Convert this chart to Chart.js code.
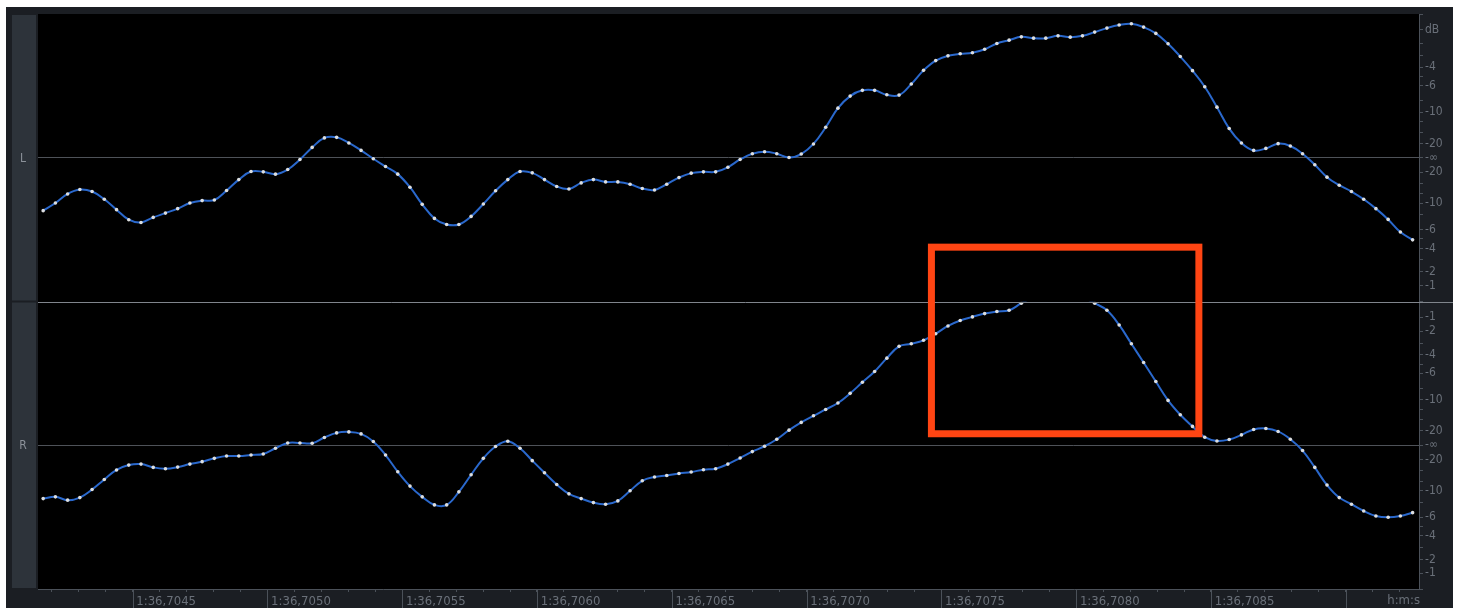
<!DOCTYPE html>
<html>
<head>
<meta charset="utf-8">
<script src="https://cdn.jsdelivr.net/npm/chart.js@4.4.1/dist/chart.umd.min.js"></script>
<style>
  html, body { margin: 0; padding: 0; background: #ffffff; }
  canvas { display: block; }
</style>
</head>
<body>
<canvas id="c" width="1462" height="608"></canvas>
<script>
// ---- data ----
const SAMPLE_RATE = 22050;              // Hz
const FIRST_SAMPLE_MS = 4.1684;         // ms after 1:36,700
const VIEW_START_MS = 4.1492;
const VIEW_END_MS = 9.2715;

// left channel sample amplitudes (linear, -1..1)
const LEFT_CHANNEL = [
  -0.368, -0.315, -0.252, -0.221, -0.235, -0.289, -0.361, -0.431, -0.450, -0.415,
  -0.385, -0.354, -0.315, -0.298, -0.294, -0.228, -0.152, -0.096, -0.098, -0.114,
  -0.082, -0.012,  0.072,  0.138,  0.142,  0.103,  0.051, -0.007, -0.061, -0.114,
  -0.205, -0.324, -0.422, -0.464, -0.464, -0.408, -0.322, -0.230, -0.152, -0.096,
  -0.105, -0.152, -0.200, -0.217, -0.175, -0.152, -0.168, -0.168, -0.184, -0.214,
  -0.224, -0.184, -0.138, -0.107, -0.098, -0.098, -0.066, -0.012,  0.028,  0.042,
   0.028,  0.002,  0.026,  0.096,  0.212,  0.345,  0.429,  0.469,  0.469,  0.438,
   0.436,  0.513,  0.608,  0.676,  0.709,  0.723,  0.730,  0.755,  0.795,  0.818,
   0.841,  0.832,  0.832,  0.848,  0.839,  0.848,  0.874,  0.902,  0.923,  0.932,
   0.909,  0.865,  0.793,  0.704,  0.606,  0.494,  0.352,  0.203,  0.103,  0.051,
   0.065,  0.098,  0.082,  0.028, -0.049, -0.135, -0.191, -0.235, -0.289, -0.354,
  -0.429, -0.517, -0.571
];

// right channel sample amplitudes (linear, -1..1; clipped run estimated)
const RIGHT_CHANNEL = [
  -0.371, -0.359, -0.382, -0.364, -0.308, -0.238, -0.172, -0.138, -0.131, -0.154,
  -0.163, -0.152, -0.131, -0.114, -0.091, -0.075, -0.075, -0.068, -0.061, -0.021,
   0.016,  0.016,  0.014,  0.054,  0.086,  0.093,  0.079,  0.026, -0.068, -0.184,
  -0.284, -0.359, -0.415, -0.415, -0.324, -0.205, -0.091, -0.009,  0.028, -0.021,
  -0.107, -0.191, -0.273, -0.338, -0.371, -0.399, -0.410, -0.387, -0.317, -0.247,
  -0.221, -0.210, -0.196, -0.186, -0.170, -0.163, -0.131, -0.089, -0.044, -0.007,
   0.042,  0.105,  0.159,  0.205,  0.249,  0.294,  0.361,  0.438,  0.513,  0.606,
   0.688,  0.706,  0.730,  0.776,  0.830,  0.868,  0.893,  0.916,  0.930,  0.939,
   0.988,  1.030,  1.050,  1.060,  1.050,  1.030,  0.988,  0.939,  0.837,  0.706,
   0.576,  0.443,  0.312,  0.212,  0.131,  0.056,  0.030,  0.040,  0.072,  0.110,
   0.117,  0.096,  0.042, -0.037, -0.154, -0.277, -0.364, -0.410, -0.457, -0.492,
  -0.501, -0.492, -0.469
];

// time axis: minor ticks every 0.1 ms, labelled major ticks every 0.5 ms
const X_LABEL_MS = [4.5, 5.0, 5.5, 6.0, 6.5, 7.0, 7.5, 8.0, 8.5];
const X_LABELS = ['1:36,7045', '1:36,7050', '1:36,7055', '1:36,7060', '1:36,7065',
                  '1:36,7070', '1:36,7075', '1:36,7080', '1:36,7085'];
const TIME_UNIT_LABEL = 'h:m:s';

// dB ruler
const DB_MARKS = [-1, -2, -3, -4, -5, -6, -8, -10, -12, -15, -20];
const L_UPPER_LABELLED = [-1, -4, -6, -10, -20];      // -1 slot shows "dB"
const R_UPPER_LABELLED = [-1, -2, -4, -6, -10, -20];
const LOWER_LABELLED = [-1, -2, -4, -6, -10, -20];

// highlight box (time in ms, amplitude on L / R channel scales)
const HIGHLIGHT = { fromMs: 7.463, toMs: 8.455, topOnL: -0.622, bottomOnR: 0.080 };

// ---- styling ----
const PANEL = '#1b1e23';
const STRIP = '#2d333a';
const AXIS = '#4b5159';
const TEXT = '#6a7079';
const CENTER_LINE = '#4e5258';
const SEPARATOR = '#80858c';
const WAVE = '#2a68cc';
const DOT = '#dcdee0';
const FONT = '"DejaVu Sans Condensed", "DejaVu Sans", sans-serif';
const FONT_SIZE = 13;

const sampleTime = i => FIRST_SAMPLE_MS + i * 1000 / SAMPLE_RATE;
const toPoints = arr => arr.map((v, i) => ({ x: sampleTime(i), y: v }));

function dbTicks(upperLabelled, upperFirstAsDb) {
  const t = [{ value: 1, label: '' }, { value: -1, label: '' }, { value: 0, label: '-∞' }];
  DB_MARKS.forEach(db => {
    const a = Math.pow(10, db / 20);
    let up = upperLabelled.includes(db) ? String(db) : '';
    if (upperFirstAsDb && db === -1) up = 'dB';
    const lo = LOWER_LABELLED.includes(db) ? String(db) : '';
    t.push({ value: a, label: up });
    t.push({ value: -a, label: lo });
  });
  t.sort((p, q) => q.value - p.value);
  return t;
}

function yScale(upperLabelled, upperFirstAsDb) {
  return {
    type: 'linear', position: 'right', stack: 'ch', stackWeight: 1,
    min: -1, max: 1,
    afterFit: s => { s.width = 34; },
    afterBuildTicks: s => { s.ticks = dbTicks(upperLabelled, upperFirstAsDb); },
    grid: {
      drawOnChartArea: true, drawTicks: true, tickLength: 4, tickColor: AXIS,
      color: c => (c.tick && Math.abs(c.tick.value) < 1e-9) ? CENTER_LINE : 'rgba(0,0,0,0)'
    },
    border: { display: true, color: AXIS },
    ticks: {
      autoSkip: false, padding: 2, color: TEXT, font: { family: FONT, size: FONT_SIZE - 1 },
      callback: (v, i, ticks) => ticks[i].label
    }
  };
}

const chromePlugin = {
  id: 'chrome',
  beforeDraw(chart) {
    const { ctx, chartArea: a, scales } = chart;
    ctx.save();
    ctx.fillStyle = '#ffffff';
    ctx.fillRect(0, 0, chart.width, chart.height);
    ctx.fillStyle = PANEL;
    ctx.fillRect(6, 7, 1447, chart.height - 7);
    ctx.fillStyle = '#000000';
    ctx.fillRect(a.left, a.top, a.width, a.height);
    [['L', scales.yL], ['R', scales.yR]].forEach(([t, s]) => {
      ctx.fillStyle = STRIP;
      ctx.fillRect(12, s.top + 1, 24, s.bottom - s.top - 2);
      ctx.fillStyle = '#8c929a';
      ctx.font = (FONT_SIZE - 1) + 'px ' + FONT;
      ctx.textAlign = 'center';
      ctx.textBaseline = 'middle';
      ctx.fillText(t, 23, s.getPixelForValue(0) + 1);
    });
    ctx.restore();
  },
  beforeDatasetDraw(chart, args) {
    const ds = chart.data.datasets[args.index];
    const s = chart.scales[ds.yAxisID];
    const a = chart.chartArea;
    chart.ctx.save();
    chart.ctx.beginPath();
    chart.ctx.rect(a.left, s.top, a.width, s.bottom - s.top);
    chart.ctx.clip();
  },
  afterDatasetDraw(chart) {
    chart.ctx.restore();
  },
  afterDraw(chart) {
    const { ctx, chartArea: a, scales } = chart;
    const x = scales.x, yL = scales.yL, yR = scales.yR;
    ctx.save();
    // channel separator
    ctx.strokeStyle = SEPARATOR;
    ctx.lineWidth = 1;
    const sy = Math.round(yL.bottom) + 0.5;
    ctx.beginPath(); ctx.moveTo(a.left, sy); ctx.lineTo(1453, sy); ctx.stroke();
    // long major time ticks
    ctx.strokeStyle = AXIS;
    x.ticks.forEach(t => {
      if (t.major) {
        const px = Math.round(x.getPixelForValue(t.value)) + 0.5;
        ctx.beginPath(); ctx.moveTo(px, x.top); ctx.lineTo(px, x.bottom); ctx.stroke();
      }
    });
    // unit label
    ctx.fillStyle = TEXT;
    ctx.font = FONT_SIZE + 'px ' + FONT;
    ctx.textAlign = 'right';
    ctx.textBaseline = 'middle';
    ctx.fillText(TIME_UNIT_LABEL, a.right + 1, x.top + 12);
    // highlight box
    const l = x.getPixelForValue(HIGHLIGHT.fromMs);
    const r = x.getPixelForValue(HIGHLIGHT.toMs);
    const tp = yL.getPixelForValue(HIGHLIGHT.topOnL);
    const bt = yR.getPixelForValue(HIGHLIGHT.bottomOnR);
    ctx.strokeStyle = '#ff4513';
    ctx.lineWidth = 7;
    ctx.strokeRect(l, tp, r - l, bt - tp);
    ctx.restore();
  }
};

const xTicks = [];
for (let k = 42; k <= 92; k++) xTicks.push({ value: k / 10, major: k % 5 === 0 });

new Chart(document.getElementById('c'), {
  type: 'line',
  data: {
    datasets: [
      { label: 'L', data: toPoints(LEFT_CHANNEL), yAxisID: 'yL', xAxisID: 'x' },
      { label: 'R', data: toPoints(RIGHT_CHANNEL), yAxisID: 'yR', xAxisID: 'x' }
    ]
  },
  options: {
    responsive: false,
    animation: false,
    devicePixelRatio: 1,
    layout: { padding: { left: 38, top: 14, right: 9, bottom: 0 } },
    elements: {
      line: { borderColor: WAVE, borderWidth: 2, tension: 0.4, fill: false },
      point: { radius: 1.8, backgroundColor: DOT, borderWidth: 0, hoverRadius: 1.8 }
    },
    plugins: { legend: { display: false }, tooltip: { enabled: false }, title: { display: false } },
    scales: {
      x: {
        type: 'linear', position: 'bottom', min: VIEW_START_MS, max: VIEW_END_MS,
        afterFit: s => { s.height = 19; },
        afterBuildTicks: s => { s.ticks = xTicks.map(t => ({ ...t })); },
        grid: { drawOnChartArea: false, drawTicks: true, tickLength: 3, tickColor: AXIS },
        border: { display: true, color: AXIS },
        ticks: {
          autoSkip: false, maxRotation: 0, minRotation: 0, align: 'start', padding: 2,
          color: TEXT, font: { family: FONT, size: FONT_SIZE },
          callback: v => {
            const i = X_LABEL_MS.findIndex(m => Math.abs(m - v) < 1e-6);
            return i >= 0 ? ' ' + X_LABELS[i] : '';
          }
        }
      },
      yL: yScale(L_UPPER_LABELLED, true),
      yR: yScale(R_UPPER_LABELLED, false)
    }
  },
  plugins: [chromePlugin]
});
</script>
</body>
</html>
